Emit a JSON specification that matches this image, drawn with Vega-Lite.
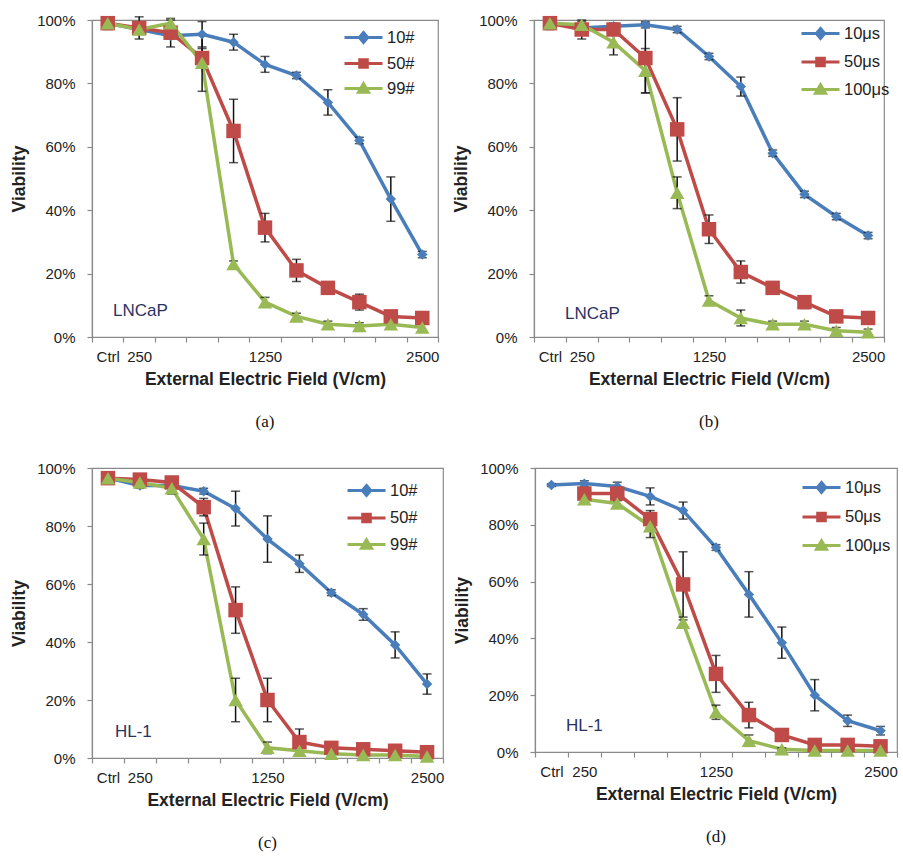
{
  "$schema": "https://vega.github.io/schema/vega-lite/v6.json",
  "background": "white",
  "padding": {"left": 10, "top": 12, "right": 0, "bottom": 0},
  "config": {
    "font": "Liberation Sans",
    "view": {"stroke": "#8a8a8a", "strokeWidth": 1.2},
    "axis": {"grid": false, "domainColor": "#8a8a8a", "tickColor": "#8a8a8a", "domainWidth": 1.2, "tickWidth": 1.2, "labelColor": "#222", "titleColor": "#222", "labelFontSize": 15, "titleFontSize": 17.5, "titleFontWeight": "bold", "tickSize": 5},
    "legend": {"labelFontSize": 16.5, "labelColor": "#222"}
  },
  "datasets": {
    "rows": [
      {"p":"a","s":"10#","f":0,"v":99,"e":1},{"p":"a","s":"10#","f":250,"v":97,"e":1},{"p":"a","s":"10#","f":500,"v":95,"e":1},{"p":"a","s":"10#","f":750,"v":95.5,"e":4},{"p":"a","s":"10#","f":1000,"v":93,"e":2.5},{"p":"a","s":"10#","f":1250,"v":86,"e":2.5},{"p":"a","s":"10#","f":1500,"v":82.5,"e":1},{"p":"a","s":"10#","f":1750,"v":74,"e":4},{"p":"a","s":"10#","f":2000,"v":62,"e":1},{"p":"a","s":"10#","f":2250,"v":43.5,"e":7},{"p":"a","s":"10#","f":2500,"v":26,"e":1},
      {"p":"a","s":"50#","f":0,"v":99,"e":2},{"p":"a","s":"50#","f":250,"v":97.5,"e":3.5},{"p":"a","s":"50#","f":500,"v":96,"e":4.5},{"p":"a","s":"50#","f":750,"v":88,"e":3},{"p":"a","s":"50#","f":1000,"v":65,"e":10},{"p":"a","s":"50#","f":1250,"v":34.5,"e":4.5},{"p":"a","s":"50#","f":1500,"v":21,"e":3.5},{"p":"a","s":"50#","f":1750,"v":15.5,"e":1},{"p":"a","s":"50#","f":2000,"v":11,"e":2.5},{"p":"a","s":"50#","f":2250,"v":6.5,"e":1},{"p":"a","s":"50#","f":2500,"v":6,"e":1},
      {"p":"a","s":"99#","f":0,"v":99,"e":1},{"p":"a","s":"99#","f":250,"v":97,"e":1},{"p":"a","s":"99#","f":500,"v":99,"e":1},{"p":"a","s":"99#","f":750,"v":86.5,"e":9},{"p":"a","s":"99#","f":1000,"v":23,"e":1},{"p":"a","s":"99#","f":1250,"v":11,"e":1.5},{"p":"a","s":"99#","f":1500,"v":6.5,"e":1},{"p":"a","s":"99#","f":1750,"v":4,"e":1},{"p":"a","s":"99#","f":2000,"v":3.5,"e":1},{"p":"a","s":"99#","f":2250,"v":4,"e":1},{"p":"a","s":"99#","f":2500,"v":3,"e":1},
      {"p":"b","s":"10μs","f":0,"v":99,"e":1},{"p":"b","s":"10μs","f":250,"v":97.5,"e":1},{"p":"b","s":"10μs","f":500,"v":98,"e":1},{"p":"b","s":"10μs","f":750,"v":98.5,"e":1},{"p":"b","s":"10μs","f":1000,"v":97,"e":1},{"p":"b","s":"10μs","f":1250,"v":88.5,"e":1},{"p":"b","s":"10μs","f":1500,"v":79,"e":3},{"p":"b","s":"10μs","f":1750,"v":58,"e":1},{"p":"b","s":"10μs","f":2000,"v":45,"e":1},{"p":"b","s":"10μs","f":2250,"v":38,"e":1},{"p":"b","s":"10μs","f":2500,"v":32,"e":1},
      {"p":"b","s":"50μs","f":0,"v":99,"e":2},{"p":"b","s":"50μs","f":250,"v":97,"e":3},{"p":"b","s":"50μs","f":500,"v":97,"e":1},{"p":"b","s":"50μs","f":750,"v":88,"e":11},{"p":"b","s":"50μs","f":1000,"v":65.5,"e":10},{"p":"b","s":"50μs","f":1250,"v":34,"e":4.5},{"p":"b","s":"50μs","f":1500,"v":20.5,"e":3.5},{"p":"b","s":"50μs","f":1750,"v":15.5,"e":1},{"p":"b","s":"50μs","f":2000,"v":11,"e":2},{"p":"b","s":"50μs","f":2250,"v":6.5,"e":1},{"p":"b","s":"50μs","f":2500,"v":6,"e":1},
      {"p":"b","s":"100μs","f":0,"v":99,"e":1},{"p":"b","s":"100μs","f":250,"v":98.5,"e":1},{"p":"b","s":"100μs","f":500,"v":93,"e":4},{"p":"b","s":"100μs","f":750,"v":84,"e":7},{"p":"b","s":"100μs","f":1000,"v":45.5,"e":5},{"p":"b","s":"100μs","f":1250,"v":11.5,"e":1.5},{"p":"b","s":"100μs","f":1500,"v":6,"e":2.5},{"p":"b","s":"100μs","f":1750,"v":4,"e":1},{"p":"b","s":"100μs","f":2000,"v":4,"e":1},{"p":"b","s":"100μs","f":2250,"v":2,"e":1},{"p":"b","s":"100μs","f":2500,"v":1.5,"e":1},
      {"p":"c","s":"10#","f":0,"v":96.5,"e":1},{"p":"c","s":"10#","f":250,"v":94,"e":1},{"p":"c","s":"10#","f":500,"v":94,"e":1},{"p":"c","s":"10#","f":750,"v":92,"e":1},{"p":"c","s":"10#","f":1000,"v":86,"e":6},{"p":"c","s":"10#","f":1250,"v":75.5,"e":8},{"p":"c","s":"10#","f":1500,"v":67,"e":3},{"p":"c","s":"10#","f":1750,"v":57,"e":1},{"p":"c","s":"10#","f":2000,"v":49.5,"e":2},{"p":"c","s":"10#","f":2250,"v":39,"e":4.5},{"p":"c","s":"10#","f":2500,"v":25.5,"e":3.5},
      {"p":"c","s":"50#","f":0,"v":96.5,"e":1},{"p":"c","s":"50#","f":250,"v":96,"e":1},{"p":"c","s":"50#","f":500,"v":95,"e":2},{"p":"c","s":"50#","f":750,"v":86.5,"e":3},{"p":"c","s":"50#","f":1000,"v":51,"e":8},{"p":"c","s":"50#","f":1250,"v":20,"e":7.5},{"p":"c","s":"50#","f":1500,"v":5.5,"e":4.5},{"p":"c","s":"50#","f":1750,"v":3.5,"e":1},{"p":"c","s":"50#","f":2000,"v":3,"e":1},{"p":"c","s":"50#","f":2250,"v":2.5,"e":1},{"p":"c","s":"50#","f":2500,"v":2,"e":1},
      {"p":"c","s":"99#","f":0,"v":96.5,"e":1},{"p":"c","s":"99#","f":250,"v":95,"e":1},{"p":"c","s":"99#","f":500,"v":93,"e":2},{"p":"c","s":"99#","f":750,"v":75.5,"e":5.5},{"p":"c","s":"99#","f":1000,"v":20,"e":7.5},{"p":"c","s":"99#","f":1250,"v":3.5,"e":2},{"p":"c","s":"99#","f":1500,"v":2.5,"e":1},{"p":"c","s":"99#","f":1750,"v":1.5,"e":1},{"p":"c","s":"99#","f":2000,"v":1,"e":1},{"p":"c","s":"99#","f":2250,"v":1,"e":1},{"p":"c","s":"99#","f":2500,"v":0.5,"e":1},
      {"p":"d","s":"10μs","f":0,"v":94,"e":0.5},{"p":"d","s":"10μs","f":250,"v":94.5,"e":1},{"p":"d","s":"10μs","f":500,"v":93.5,"e":1.5},{"p":"d","s":"10μs","f":750,"v":90,"e":3},{"p":"d","s":"10μs","f":1000,"v":85,"e":3},{"p":"d","s":"10μs","f":1250,"v":72,"e":1},{"p":"d","s":"10μs","f":1500,"v":55.5,"e":8},{"p":"d","s":"10μs","f":1750,"v":38.5,"e":5.5},{"p":"d","s":"10μs","f":2000,"v":20,"e":5.5},{"p":"d","s":"10μs","f":2250,"v":11,"e":2},{"p":"d","s":"10μs","f":2500,"v":7.5,"e":1.5},
      {"p":"d","s":"50μs","f":250,"v":91,"e":1},{"p":"d","s":"50μs","f":500,"v":91,"e":1},{"p":"d","s":"50μs","f":750,"v":82,"e":3},{"p":"d","s":"50μs","f":1000,"v":59,"e":11.5},{"p":"d","s":"50μs","f":1250,"v":27.5,"e":6.5},{"p":"d","s":"50μs","f":1500,"v":13,"e":4.5},{"p":"d","s":"50μs","f":1750,"v":6,"e":1},{"p":"d","s":"50μs","f":2000,"v":2.5,"e":1},{"p":"d","s":"50μs","f":2250,"v":2.5,"e":1},{"p":"d","s":"50μs","f":2500,"v":2,"e":1},
      {"p":"d","s":"100μs","f":250,"v":89,"e":1},{"p":"d","s":"100μs","f":500,"v":87.5,"e":1},{"p":"d","s":"100μs","f":750,"v":79.5,"e":4},{"p":"d","s":"100μs","f":1000,"v":45.5,"e":1},{"p":"d","s":"100μs","f":1250,"v":14,"e":2.5},{"p":"d","s":"100μs","f":1500,"v":4,"e":2},{"p":"d","s":"100μs","f":1750,"v":1,"e":0.5},{"p":"d","s":"100μs","f":2000,"v":0.5,"e":0.5},{"p":"d","s":"100μs","f":2250,"v":0.5,"e":0.5},{"p":"d","s":"100μs","f":2500,"v":0.5,"e":0.5}
    ]
  },
  "resolve": {"scale": {"color": "independent", "x": "independent", "y": "independent"}, "legend": {"color": "independent"}},
  "spacing": 29,
  "vconcat": [
    {
      "spacing": 12,
      "resolve": {"scale": {"color": "independent", "x": "independent", "y": "independent"}, "legend": {"color": "independent"}},
      "hconcat": [
        {
          "width": 346, "height": 317,
          "title": {"text": "(a)", "orient": "bottom", "font": "Liberation Serif", "fontSize": 17, "fontWeight": "normal", "color": "#111", "offset": 26, "anchor": "middle", "frame": "group"},
          "layer": [
            {
              "data": {"name": "rows"}, "transform": [{"filter": "datum.p === 'a'"}],
              "encoding": {
                "x": {"field": "f", "type": "quantitative", "title": "External Electric Field  (V/cm)", "scale": {"domain": [-125, 2625], "nice": false, "zero": false},
                  "axis": {"values": [-125,0,125,250,375,500,625,750,875,1000,1125,1250,1375,1500,1625,1750,1875,2000,2125,2250,2375,2500,2625], "labelExpr": "datum.value === 0 ? 'Ctrl' : (datum.value === 250 || datum.value === 1250 || datum.value === 2500) ? '' + datum.value : ''", "tickOpacity": {"condition": {"test": "datum.value % 250 === 0", "value": 0}, "value": 1}, "labelOverlap": false, "labelFlush": false, "labelBound": false, "labelPadding": 7, "titlePadding": 6}},
                "y": {"field": "v", "type": "quantitative", "title": "Viability", "scale": {"domain": [0, 100], "nice": false},
                  "axis": {"values": [0,20,40,60,80,100], "labelExpr": "datum.value + '%'", "labelPadding": 12, "titlePadding": 8}},
                "color": {"field": "s", "type": "nominal", "scale": {"domain": ["10#","50#","99#"], "range": ["#4A7EBB","#BE4B48","#98B954"]},
                  "legend": {"title": null, "orient": "none", "legendX": 260, "legendY": 6, "rowPadding": 3, "symbolSize": 400, "labelOffset": 12, "padding": 0,
                    "encode": {"symbols": {"update": {
                      "shape": {"signal": "(datum.value === '10#' || datum.value === '10μs') ? 'M-1.9,0H1.9M0,-0.5L0.42,0L0,0.5L-0.42,0Z' : (datum.value === '50#' || datum.value === '50μs') ? 'M-1.9,0H1.9M-0.38,-0.38H0.38V0.38H-0.38Z' : 'M-1.9,0H1.9M0,-0.48L0.5,0.38H-0.5Z'"},
                      "fill": {"signal": "(datum.value === '10#' || datum.value === '10μs') ? '#4A7EBB' : (datum.value === '50#' || datum.value === '50μs') ? '#BE4B48' : '#98B954'"},
                      "stroke": {"signal": "(datum.value === '10#' || datum.value === '10μs') ? '#4A7EBB' : (datum.value === '50#' || datum.value === '50μs') ? '#BE4B48' : '#98B954'"},
                      "strokeWidth": {"value": 3}, "opacity": {"value": 1}, "size": {"value": 400}}}}}}
              },
              "layer": [
                {"mark": {"type": "line", "strokeWidth": 3.5}},
                {"mark": {"type": "errorbar", "ticks": true, "thickness": 1.5, "size": 9}, "encoding": {"yError": {"field": "e"}, "color": {"value": "#111"}}},
                {"transform": [{"filter": "datum.s === '10#'"}], "mark": {"type": "point", "filled": true, "opacity": 1, "shape": "diamond", "size": 110}},
                {"transform": [{"filter": "datum.s === '50#'"}], "mark": {"type": "point", "filled": true, "opacity": 1, "shape": "square", "size": 210}},
                {"transform": [{"filter": "datum.s === '99#'"}], "mark": {"type": "point", "filled": true, "opacity": 1, "shape": "triangle-up", "size": 210}}
              ]
            },
            {"data": {"values": [{"label": "LNCaP"}]}, "mark": {"type": "text", "align": "left", "baseline": "middle", "fontSize": 17, "color": "#2A3262"},
              "encoding": {
                "x": {"datum": 42, "type": "quantitative", "title": "External Electric Field  (V/cm)", "scale": {"domain": [-125, 2625], "nice": false, "zero": false},
                  "axis": {"values": [-125,0,125,250,375,500,625,750,875,1000,1125,1250,1375,1500,1625,1750,1875,2000,2125,2250,2375,2500,2625], "labelExpr": "datum.value === 0 ? 'Ctrl' : (datum.value === 250 || datum.value === 1250 || datum.value === 2500) ? '' + datum.value : ''", "tickOpacity": {"condition": {"test": "datum.value % 250 === 0", "value": 0}, "value": 1}, "labelOverlap": false, "labelFlush": false, "labelBound": false, "labelPadding": 7, "titlePadding": 6}},
                "y": {"datum": 8.2, "type": "quantitative", "title": "Viability", "scale": {"domain": [0, 100], "nice": false},
                  "axis": {"values": [0,20,40,60,80,100], "labelExpr": "datum.value + '%'", "labelPadding": 12, "titlePadding": 8}},
                "text": {"field": "label"}}}
          ]
        },
        {
          "width": 350, "height": 317,
          "title": {"text": "(b)", "orient": "bottom", "font": "Liberation Serif", "fontSize": 17, "fontWeight": "normal", "color": "#111", "offset": 26, "anchor": "middle", "frame": "group"},
          "layer": [
            {
              "data": {"name": "rows"}, "transform": [{"filter": "datum.p === 'b'"}],
              "encoding": {
                "x": {"field": "f", "type": "quantitative", "title": "External Electric Field  (V/cm)", "scale": {"domain": [-125, 2625], "nice": false, "zero": false},
                  "axis": {"values": [-125,0,125,250,375,500,625,750,875,1000,1125,1250,1375,1500,1625,1750,1875,2000,2125,2250,2375,2500,2625], "labelExpr": "datum.value === 0 ? 'Ctrl' : (datum.value === 250 || datum.value === 1250 || datum.value === 2500) ? '' + datum.value : ''", "tickOpacity": {"condition": {"test": "datum.value % 250 === 0", "value": 0}, "value": 1}, "labelOverlap": false, "labelFlush": false, "labelBound": false, "labelPadding": 7, "titlePadding": 6}},
                "y": {"field": "v", "type": "quantitative", "title": "Viability", "scale": {"domain": [0, 100], "nice": false},
                  "axis": {"values": [0,20,40,60,80,100], "labelExpr": "datum.value + '%'", "labelPadding": 12, "titlePadding": 8}},
                "color": {"field": "s", "type": "nominal", "scale": {"domain": ["10μs","50μs","100μs"], "range": ["#4A7EBB","#BE4B48","#98B954"]},
                  "legend": {"title": null, "orient": "none", "legendX": 275, "legendY": 2, "rowPadding": 5.5, "symbolSize": 400, "labelOffset": 12, "padding": 0,
                    "encode": {"symbols": {"update": {
                      "shape": {"signal": "(datum.value === '10#' || datum.value === '10μs') ? 'M-1.9,0H1.9M0,-0.5L0.42,0L0,0.5L-0.42,0Z' : (datum.value === '50#' || datum.value === '50μs') ? 'M-1.9,0H1.9M-0.38,-0.38H0.38V0.38H-0.38Z' : 'M-1.9,0H1.9M0,-0.48L0.5,0.38H-0.5Z'"},
                      "fill": {"signal": "(datum.value === '10#' || datum.value === '10μs') ? '#4A7EBB' : (datum.value === '50#' || datum.value === '50μs') ? '#BE4B48' : '#98B954'"},
                      "stroke": {"signal": "(datum.value === '10#' || datum.value === '10μs') ? '#4A7EBB' : (datum.value === '50#' || datum.value === '50μs') ? '#BE4B48' : '#98B954'"},
                      "strokeWidth": {"value": 3}, "opacity": {"value": 1}, "size": {"value": 400}}}}}}
              },
              "layer": [
                {"mark": {"type": "line", "strokeWidth": 3.5}},
                {"mark": {"type": "errorbar", "ticks": true, "thickness": 1.5, "size": 9}, "encoding": {"yError": {"field": "e"}, "color": {"value": "#111"}}},
                {"transform": [{"filter": "datum.s === '10μs'"}], "mark": {"type": "point", "filled": true, "opacity": 1, "shape": "diamond", "size": 110}},
                {"transform": [{"filter": "datum.s === '50μs'"}], "mark": {"type": "point", "filled": true, "opacity": 1, "shape": "square", "size": 210}},
                {"transform": [{"filter": "datum.s === '100μs'"}], "mark": {"type": "point", "filled": true, "opacity": 1, "shape": "triangle-up", "size": 210}}
              ]
            },
            {"data": {"values": [{"label": "LNCaP"}]}, "mark": {"type": "text", "align": "left", "baseline": "middle", "fontSize": 17, "color": "#2A3262"},
              "encoding": {
                "x": {"datum": 119, "type": "quantitative", "title": "External Electric Field  (V/cm)", "scale": {"domain": [-125, 2625], "nice": false, "zero": false},
                  "axis": {"values": [-125,0,125,250,375,500,625,750,875,1000,1125,1250,1375,1500,1625,1750,1875,2000,2125,2250,2375,2500,2625], "labelExpr": "datum.value === 0 ? 'Ctrl' : (datum.value === 250 || datum.value === 1250 || datum.value === 2500) ? '' + datum.value : ''", "tickOpacity": {"condition": {"test": "datum.value % 250 === 0", "value": 0}, "value": 1}, "labelOverlap": false, "labelFlush": false, "labelBound": false, "labelPadding": 7, "titlePadding": 6}},
                "y": {"datum": 7.3, "type": "quantitative", "title": "Viability", "scale": {"domain": [0, 100], "nice": false},
                  "axis": {"values": [0,20,40,60,80,100], "labelExpr": "datum.value + '%'", "labelPadding": 12, "titlePadding": 8}},
                "text": {"field": "label"}}}
          ]
        }
      ]
    },
    {
      "spacing": 8,
      "resolve": {"scale": {"color": "independent", "x": "independent", "y": "independent"}, "legend": {"color": "independent"}},
      "hconcat": [
        {
          "width": 351, "height": 290,
          "title": {"text": "(c)", "orient": "bottom", "font": "Liberation Serif", "fontSize": 17, "fontWeight": "normal", "color": "#111", "offset": 26, "anchor": "middle", "frame": "group"},
          "layer": [
            {
              "data": {"name": "rows"}, "transform": [{"filter": "datum.p === 'c'"}],
              "encoding": {
                "x": {"field": "f", "type": "quantitative", "title": "External Electric Field  (V/cm)", "scale": {"domain": [-125, 2625], "nice": false, "zero": false},
                  "axis": {"values": [-125,0,125,250,375,500,625,750,875,1000,1125,1250,1375,1500,1625,1750,1875,2000,2125,2250,2375,2500,2625], "labelExpr": "datum.value === 0 ? 'Ctrl' : (datum.value === 250 || datum.value === 1250 || datum.value === 2500) ? '' + datum.value : ''", "tickOpacity": {"condition": {"test": "datum.value % 250 === 0", "value": 0}, "value": 1}, "labelOverlap": false, "labelFlush": false, "labelBound": false, "labelPadding": 7, "titlePadding": 6}},
                "y": {"field": "v", "type": "quantitative", "title": "Viability", "scale": {"domain": [0, 100], "nice": false},
                  "axis": {"values": [0,20,40,60,80,100], "labelExpr": "datum.value + '%'", "labelPadding": 12, "titlePadding": 8}},
                "color": {"field": "s", "type": "nominal", "scale": {"domain": ["10#","50#","99#"], "range": ["#4A7EBB","#BE4B48","#98B954"]},
                  "legend": {"title": null, "orient": "none", "legendX": 263, "legendY": 11, "rowPadding": 4.5, "symbolSize": 400, "labelOffset": 12, "padding": 0,
                    "encode": {"symbols": {"update": {
                      "shape": {"signal": "(datum.value === '10#' || datum.value === '10μs') ? 'M-1.9,0H1.9M0,-0.5L0.42,0L0,0.5L-0.42,0Z' : (datum.value === '50#' || datum.value === '50μs') ? 'M-1.9,0H1.9M-0.38,-0.38H0.38V0.38H-0.38Z' : 'M-1.9,0H1.9M0,-0.48L0.5,0.38H-0.5Z'"},
                      "fill": {"signal": "(datum.value === '10#' || datum.value === '10μs') ? '#4A7EBB' : (datum.value === '50#' || datum.value === '50μs') ? '#BE4B48' : '#98B954'"},
                      "stroke": {"signal": "(datum.value === '10#' || datum.value === '10μs') ? '#4A7EBB' : (datum.value === '50#' || datum.value === '50μs') ? '#BE4B48' : '#98B954'"},
                      "strokeWidth": {"value": 3}, "opacity": {"value": 1}, "size": {"value": 400}}}}}}
              },
              "layer": [
                {"mark": {"type": "line", "strokeWidth": 3.5}},
                {"mark": {"type": "errorbar", "ticks": true, "thickness": 1.5, "size": 9}, "encoding": {"yError": {"field": "e"}, "color": {"value": "#111"}}},
                {"transform": [{"filter": "datum.s === '10#'"}], "mark": {"type": "point", "filled": true, "opacity": 1, "shape": "diamond", "size": 110}},
                {"transform": [{"filter": "datum.s === '50#'"}], "mark": {"type": "point", "filled": true, "opacity": 1, "shape": "square", "size": 210}},
                {"transform": [{"filter": "datum.s === '99#'"}], "mark": {"type": "point", "filled": true, "opacity": 1, "shape": "triangle-up", "size": 210}}
              ]
            },
            {"data": {"values": [{"label": "HL-1"}]}, "mark": {"type": "text", "align": "left", "baseline": "middle", "fontSize": 17, "color": "#2A3262"},
              "encoding": {
                "x": {"datum": 55, "type": "quantitative", "title": "External Electric Field  (V/cm)", "scale": {"domain": [-125, 2625], "nice": false, "zero": false},
                  "axis": {"values": [-125,0,125,250,375,500,625,750,875,1000,1125,1250,1375,1500,1625,1750,1875,2000,2125,2250,2375,2500,2625], "labelExpr": "datum.value === 0 ? 'Ctrl' : (datum.value === 250 || datum.value === 1250 || datum.value === 2500) ? '' + datum.value : ''", "tickOpacity": {"condition": {"test": "datum.value % 250 === 0", "value": 0}, "value": 1}, "labelOverlap": false, "labelFlush": false, "labelBound": false, "labelPadding": 7, "titlePadding": 6}},
                "y": {"datum": 9, "type": "quantitative", "title": "Viability", "scale": {"domain": [0, 100], "nice": false},
                  "axis": {"values": [0,20,40,60,80,100], "labelExpr": "datum.value + '%'", "labelPadding": 12, "titlePadding": 8}},
                "text": {"field": "label"}}}
          ]
        },
        {
          "width": 362, "height": 284,
          "title": {"text": "(d)", "orient": "bottom", "font": "Liberation Serif", "fontSize": 17, "fontWeight": "normal", "color": "#111", "offset": 26, "anchor": "middle", "frame": "group"},
          "layer": [
            {
              "data": {"name": "rows"}, "transform": [{"filter": "datum.p === 'd'"}],
              "encoding": {
                "x": {"field": "f", "type": "quantitative", "title": "External Electric Field  (V/cm)", "scale": {"domain": [-125, 2625], "nice": false, "zero": false},
                  "axis": {"values": [-125,0,125,250,375,500,625,750,875,1000,1125,1250,1375,1500,1625,1750,1875,2000,2125,2250,2375,2500,2625], "labelExpr": "datum.value === 0 ? 'Ctrl' : (datum.value === 250 || datum.value === 1250 || datum.value === 2500) ? '' + datum.value : ''", "tickOpacity": {"condition": {"test": "datum.value % 250 === 0", "value": 0}, "value": 1}, "labelOverlap": false, "labelFlush": false, "labelBound": false, "labelPadding": 7, "titlePadding": 6}},
                "y": {"field": "v", "type": "quantitative", "title": "Viability", "scale": {"domain": [0, 100], "nice": false},
                  "axis": {"values": [0,20,40,60,80,100], "labelExpr": "datum.value + '%'", "labelPadding": 12, "titlePadding": 8}},
                "color": {"field": "s", "type": "nominal", "scale": {"domain": ["10μs","50μs","100μs"], "range": ["#4A7EBB","#BE4B48","#98B954"]},
                  "legend": {"title": null, "orient": "none", "legendX": 275, "legendY": 8, "rowPadding": 6.5, "symbolSize": 400, "labelOffset": 12, "padding": 0,
                    "encode": {"symbols": {"update": {
                      "shape": {"signal": "(datum.value === '10#' || datum.value === '10μs') ? 'M-1.9,0H1.9M0,-0.5L0.42,0L0,0.5L-0.42,0Z' : (datum.value === '50#' || datum.value === '50μs') ? 'M-1.9,0H1.9M-0.38,-0.38H0.38V0.38H-0.38Z' : 'M-1.9,0H1.9M0,-0.48L0.5,0.38H-0.5Z'"},
                      "fill": {"signal": "(datum.value === '10#' || datum.value === '10μs') ? '#4A7EBB' : (datum.value === '50#' || datum.value === '50μs') ? '#BE4B48' : '#98B954'"},
                      "stroke": {"signal": "(datum.value === '10#' || datum.value === '10μs') ? '#4A7EBB' : (datum.value === '50#' || datum.value === '50μs') ? '#BE4B48' : '#98B954'"},
                      "strokeWidth": {"value": 3}, "opacity": {"value": 1}, "size": {"value": 400}}}}}}
              },
              "layer": [
                {"mark": {"type": "line", "strokeWidth": 3.5}},
                {"mark": {"type": "errorbar", "ticks": true, "thickness": 1.5, "size": 9}, "encoding": {"yError": {"field": "e"}, "color": {"value": "#111"}}},
                {"transform": [{"filter": "datum.s === '10μs'"}], "mark": {"type": "point", "filled": true, "opacity": 1, "shape": "diamond", "size": 110}},
                {"transform": [{"filter": "datum.s === '50μs'"}], "mark": {"type": "point", "filled": true, "opacity": 1, "shape": "square", "size": 210}},
                {"transform": [{"filter": "datum.s === '100μs'"}], "mark": {"type": "point", "filled": true, "opacity": 1, "shape": "triangle-up", "size": 210}}
              ]
            },
            {"data": {"values": [{"label": "HL-1"}]}, "mark": {"type": "text", "align": "left", "baseline": "middle", "fontSize": 17, "color": "#2A3262"},
              "encoding": {
                "x": {"datum": 110, "type": "quantitative", "title": "External Electric Field  (V/cm)", "scale": {"domain": [-125, 2625], "nice": false, "zero": false},
                  "axis": {"values": [-125,0,125,250,375,500,625,750,875,1000,1125,1250,1375,1500,1625,1750,1875,2000,2125,2250,2375,2500,2625], "labelExpr": "datum.value === 0 ? 'Ctrl' : (datum.value === 250 || datum.value === 1250 || datum.value === 2500) ? '' + datum.value : ''", "tickOpacity": {"condition": {"test": "datum.value % 250 === 0", "value": 0}, "value": 1}, "labelOverlap": false, "labelFlush": false, "labelBound": false, "labelPadding": 7, "titlePadding": 6}},
                "y": {"datum": 9.2, "type": "quantitative", "title": "Viability", "scale": {"domain": [0, 100], "nice": false},
                  "axis": {"values": [0,20,40,60,80,100], "labelExpr": "datum.value + '%'", "labelPadding": 12, "titlePadding": 8}},
                "text": {"field": "label"}}}
          ]
        }
      ]
    }
  ]
}
